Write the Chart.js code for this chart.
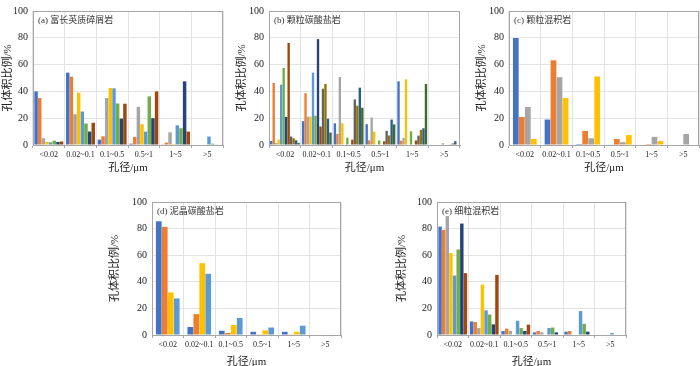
<!DOCTYPE html>
<html>
<head>
<meta charset="utf-8">
<script src="https://cdn.jsdelivr.net/npm/chart.js@4.4.0/dist/chart.umd.min.js"></script>
<style>
  html, body { margin: 0; padding: 0; background: #fff; width: 700px; height: 366px; overflow: hidden; }
  canvas { position: absolute; }
</style>
</head>
<body>
<canvas id="graf-a"></canvas>
<canvas id="graf-b"></canvas>
<canvas id="graf-c"></canvas>
<canvas id="graf-d"></canvas>
<canvas id="graf-e"></canvas>
<script>
const categorias = ["<0.02", "0.02~0.1", "0.1~0.5", "0.5~1", "1~5", ">5"];
const ticksY = [0, 20, 40, 60, 80, 100];

const tituloY = "孔体积比例/%";
const tituloX = "孔径/μm";

const rotulos = {
  a: "(a) 富长英质碎屑岩",
  b: "(b) 颗粒碳酸盐岩",
  c: "(c) 颗粒混积岩",
  d: "(d) 泥晶碳酸盐岩",
  e: "(e) 细粒混积岩"
};

// paleta padrão do Excel
const cores = ["#4472C4", "#ED7D31", "#A5A5A5", "#FFC000", "#5B9BD5", "#70AD47",
               "#264478", "#9E480E", "#636363", "#997300", "#255E91", "#43682B"];

// cada linha = uma amostra (série), valores por categoria
const serieA = [
  [40, 54, 4, 1, 0.5, 0],
  [35, 51, 6.5, 6, 1.8, 0],
  [5, 23, 35, 28.5, 9.5, 0],
  [2.4, 39, 42.5, 15.5, 0.7, 0],
  [2, 25, 42.3, 10, 14.7, 6.3],
  [3.2, 16, 31, 36.3, 12.5, 1],
  [2.3, 10, 19.7, 20, 47.5, 0.3],
  [2.6, 16.6, 30.8, 40, 10, 0]
];

const serieB = [
  [3, 17.8, 16.2, 15.5, 47.5, 0],
  [46.3, 38.7, 8.3, 3.5, 3.2, 0],
  [1.5, 21.2, 50.7, 20.5, 5.3, 0],
  [4, 21.2, 16.2, 10, 49, 0],
  [45, 54, 0, 0, 0, 0],
  [57.5, 21.8, 5.5, 3.3, 10.2, 1.2],
  [21, 79, 0, 0, 0, 0],
  [76.2, 13.8, 4, 2.8, 3.4, 0],
  [6.3, 42, 34, 10.6, 7, 0.5],
  [5, 45.6, 29.3, 7.1, 11.3, 1.2],
  [3.5, 19.6, 42.8, 19, 12.5, 2.8],
  [1.6, 9.3, 27.8, 15.4, 45.6, 0]
];

const serieC = [
  [79.8, 19, 0.7, 0.3, 0, 0],
  [20.9, 63.2, 10.5, 4.5, 0.7, 0],
  [28.3, 50.6, 5, 2.1, 6.1, 8.2],
  [4.5, 35, 51.1, 7.4, 2.9, 0]
];

const serieD = [
  [85.5, 6, 3.2, 2.4, 2.4, 0],
  [81.3, 15.7, 1.5, 0.5, 0.5, 0],
  [32, 54, 7.5, 3.5, 2.4, 0.4],
  [27.5, 46, 12.8, 5.6, 7, 0.4]
];
const coresD = ["#4472C4", "#ED7D31", "#FFC000", "#5B9BD5"];

const serieE = [
  [81.5, 10.2, 3, 2, 2.5, 0],
  [79, 9.8, 4.8, 3, 3, 0],
  [89.4, 5.2, 3, 2, 0, 0],
  [61.6, 37.9, 0, 0, 0, 0],
  [44.7, 18.5, 10.7, 5.2, 18, 1.5],
  [64.3, 15.4, 5.2, 5.6, 8.4, 0],
  [83.8, 8, 3, 2, 2.5, 0],
  [46.5, 45.2, 7.8, 0, 0, 0]
];

const fonte = "'Liberation Serif', 'Noto Sans CJK SC', serif";
const corGrade = "#e3e3e3";
const corBorda = "#a6a6a6";

const moldura = {
  id: "moldura",
  afterDraw(chart, args, opts) {
    const { ctx, chartArea: a } = chart;
    ctx.save();
    ctx.strokeStyle = corBorda;
    ctx.lineWidth = 1;
    ctx.strokeRect(Math.round(a.left) + 0.5, Math.round(a.top) + 0.5,
                   Math.round(a.right - a.left) - 1, Math.round(a.bottom - a.top));
    ctx.fillStyle = "#333";
    ctx.font = `9px ${fonte}`;
    ctx.textBaseline = "middle";
    ctx.fillText(opts.texto, a.left + 5, a.top + 10);
    ctx.restore();
  }
};

function criarGrafico(id, cfg) {
  const el = document.getElementById(id);
  el.width = cfg.largura;
  el.height = cfg.altura;
  el.style.left = cfg.esquerda + "px";
  el.style.top = cfg.topo + "px";

  return new Chart(el, {
    type: "bar",
    data: {
      labels: categorias,
      datasets: cfg.series.map((valores, i) => ({
        label: `S${i + 1}`,
        data: valores,
        backgroundColor: cfg.cores[i],
        borderWidth: 0,
        categoryPercentage: cfg.catPct,
        barPercentage: 0.95
      }))
    },
    options: {
      responsive: false,
      animation: false,
      layout: { padding: { top: 5, right: cfg.dirPad, left: 0, bottom: 0 } },
      plugins: {
        legend: { display: false },
        tooltip: { enabled: false },
        moldura: { texto: cfg.rotulo }
      },
      scales: {
        x: {
          afterFit: (s) => { s.height = cfg.alturaX; },
          grid: { color: corGrade, offset: true, tickLength: 3, tickColor: corBorda },
          border: { color: corBorda },
          ticks: {
            autoSkip: false, maxRotation: 0, minRotation: 0, padding: 2,
            color: "#222", font: { family: fonte, size: 8 }
          },
          title: {
            display: true, text: tituloX, color: "#222", padding: 0,
            font: { family: fonte, size: 11 }
          }
        },
        y: {
          min: 0, max: 100,
          afterFit: (s) => { s.width = cfg.larguraY; },
          afterBuildTicks: (s) => { s.ticks = ticksY.map(v => ({ value: v })); },
          grid: { color: corGrade, drawTicks: false },
          border: { color: corBorda },
          ticks: { padding: 5, color: "#222", font: { family: fonte, size: 10 } },
          title: {
            display: true, text: tituloY, color: "#222", padding: { top: 2, bottom: 0 },
            font: { family: fonte, size: 11 }
          }
        }
      }
    },
    plugins: [moldura]
  });
}

criarGrafico("graf-a", { series: serieA, cores, rotulo: rotulos.a, catPct: 0.92,
  esquerda: 0, topo: 0, largura: 225, altura: 175, larguraY: 33, alturaX: 30, dirPad: 2 });
criarGrafico("graf-b", { series: serieB, cores, rotulo: rotulos.b, catPct: 0.94,
  esquerda: 234, topo: 0, largura: 228, altura: 175, larguraY: 35, alturaX: 30, dirPad: 2 });
criarGrafico("graf-c", { series: serieC, cores, rotulo: rotulos.c, catPct: 0.76,
  esquerda: 474, topo: 0, largura: 226, altura: 175, larguraY: 35, alturaX: 30, dirPad: 1 });
criarGrafico("graf-d", { series: serieD, cores: coresD, rotulo: rotulos.d, catPct: 0.76,
  esquerda: 107, topo: 191, largura: 236, altura: 178, larguraY: 45, alturaX: 34, dirPad: 2 });
criarGrafico("graf-e", { series: serieE, cores, rotulo: rotulos.e, catPct: 0.92,
  esquerda: 394, topo: 191, largura: 234, altura: 178, larguraY: 43, alturaX: 34, dirPad: 2 });
</script>
</body>
</html>
